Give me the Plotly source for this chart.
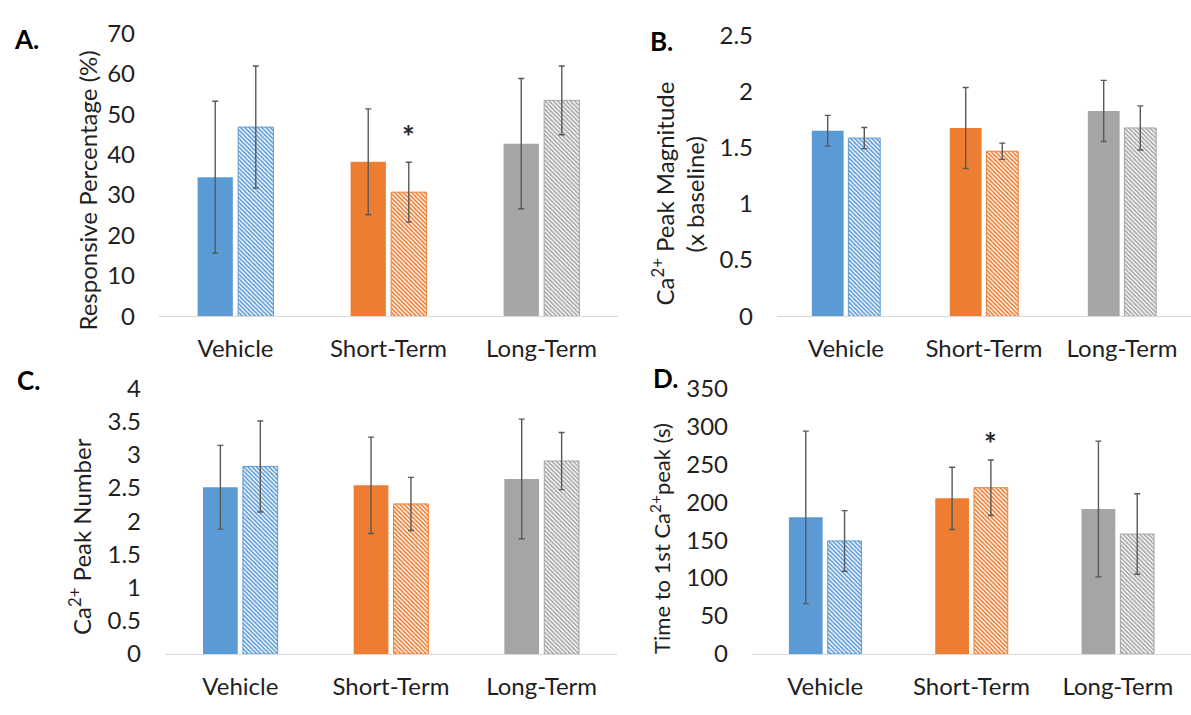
import plotly.graph_objects as go

# Groups and colours
categories = ["Vehicle", "Short-Term", "Long-Term"]
group_colors = ["#5B9BD5", "#ED7D31", "#A5A5A5"]

# A. Responsive percentage (%)
resp_solid = [34.4, 38.2, 42.7]
resp_solid_err = [18.8, 13.1, 16.1]
resp_hatch = [46.8, 30.7, 53.4]
resp_hatch_err = [15.1, 7.4, 8.5]

# B. Ca2+ peak magnitude (x baseline)
mag_solid = [1.65, 1.675, 1.826]
mag_solid_err = [0.137, 0.36, 0.272]
mag_hatch = [1.585, 1.468, 1.675]
mag_hatch_err = [0.094, 0.072, 0.196]

# C. Ca2+ peak number
num_solid = [2.51, 2.54, 2.635]
num_solid_err = [0.63, 0.725, 0.9]
num_hatch = [2.823, 2.259, 2.905]
num_hatch_err = [0.685, 0.40, 0.43]

# D. Time to 1st Ca2+ peak (s)
time_solid = [180, 205, 191]
time_solid_err = [113.6, 41, 89.4]
time_hatch = [149, 219, 158]
time_hatch_err = [39.9, 36.5, 53]

FONT = "Lato"
TEXT = "#1f1f1f"
FS = 24
W, H = 1191, 715

panels = [
    # (xaxis, yaxis, solid, solid_err, hatch, hatch_err)
    ("x", "y", resp_solid, resp_solid_err, resp_hatch, resp_hatch_err),
    ("x2", "y2", mag_solid, mag_solid_err, mag_hatch, mag_hatch_err),
    ("x3", "y3", num_solid, num_solid_err, num_hatch, num_hatch_err),
    ("x4", "y4", time_solid, time_solid_err, time_hatch, time_hatch_err),
]

xpos = list(range(len(categories)))
fig = go.Figure()

for xa, ya, solid, solid_err, hatch, hatch_err in panels:
    fig.add_trace(go.Bar(
        x=xpos, y=solid, xaxis=xa, yaxis=ya, offsetgroup="a",
        marker=dict(color=group_colors, line=dict(width=0)),
        error_y=dict(type="data", array=solid_err, color="#595959",
                     thickness=1.4, width=3),
        showlegend=False,
    ))
    fig.add_trace(go.Bar(
        x=xpos, y=hatch, xaxis=xa, yaxis=ya, offsetgroup="b",
        marker=dict(
            color="white",
            line=dict(color=group_colors, width=1),
            pattern=dict(shape="\\", fgcolor=group_colors, bgcolor="white",
                         size=3, solidity=0.55, fillmode="replace"),
        ),
        error_y=dict(type="data", array=hatch_err, color="#595959",
                     thickness=1.4, width=3),
        showlegend=False,
    ))


def px_x(p):
    return p / W


def px_y(p):
    return 1 - p / H


def xaxis_cfg(x0, x1):
    return dict(
        domain=[px_x(x0), min(1.0, px_x(x1))], range=[-0.5, 2.5],
        tickmode="array", tickvals=xpos, ticktext=categories,
        showline=True, linecolor="#D9D9D9", linewidth=1.3,
        ticks="outside", ticklen=11, tickcolor="rgba(0,0,0,0)",
        showgrid=False, zeroline=False, fixedrange=True,
        tickfont=dict(family=FONT, size=FS, color=TEXT),
    )


def yaxis_cfg(y0, y1, rng, dtick):
    return dict(
        domain=[px_y(y0), px_y(y1)], range=rng, dtick=dtick,
        showline=False, showgrid=False, zeroline=False, ticks="",
        ticklabelstandoff=23, fixedrange=True,
        tickfont=dict(family=FONT, size=FS, color=TEXT),
    )


fig.update_layout(
    width=W, height=H, margin=dict(l=0, r=0, t=0, b=0),
    paper_bgcolor="white", plot_bgcolor="white",
    barmode="group", bargap=0.47, bargroupgap=0.13,
    xaxis=dict(xaxis_cfg(159, 618), anchor="y"),
    yaxis=dict(yaxis_cfg(313, 18, [0, 70], 10), anchor="x"),
    xaxis2=dict(xaxis_cfg(777, 1191), anchor="y2"),
    yaxis2=dict(yaxis_cfg(313, 20, [0, 2.5], 0.5), anchor="x2"),
    xaxis3=dict(xaxis_cfg(165, 617), anchor="y3"),
    yaxis3=dict(yaxis_cfg(665, 388, [0, 4], 0.5), anchor="x3"),
    xaxis4=dict(xaxis_cfg(752, 1191), anchor="y4"),
    yaxis4=dict(yaxis_cfg(665, 388, [0, 350], 50), anchor="x4"),
)

annotations = []


def side_title(text, x, y, size=FS):
    annotations.append(dict(
        text=text, x=px_x(x), y=px_y(y), xref="paper", yref="paper",
        textangle=-90, showarrow=False, xanchor="center", yanchor="middle",
        font=dict(family=FONT, size=size, color=TEXT),
    ))


side_title("Responsive Percentage (%)", 88, 182)
side_title("Ca<sup>2+</sup> Peak Magnitude", 663, 185)
side_title("(x baseline)", 694, 186)
side_title("Ca<sup>2+</sup> Peak Number", 80, 543)
side_title("Time to 1st Ca<sup>2+</sup>peak (s)", 661, 545, size=22)

for label, x, y in [("A.", 26, 24), ("B.", 661, 26), ("C.", 28, 379), ("D.", 665, 377)]:
    annotations.append(dict(
        text=f"<b>{label}</b>", x=px_x(x), y=px_y(y), xref="paper", yref="paper",
        showarrow=False, xanchor="center", yanchor="middle",
        font=dict(family=FONT, size=26, color="black"),
    ))

# significance markers above the hatched Short-Term bars
for xr, yr, yv in [("x", "y", 44.5), ("x4", "y4", 278)]:
    annotations.append(dict(
        text="<b>*</b>", x=1.13, y=yv, xref=xr, yref=yr, showarrow=False,
        xanchor="center", yanchor="middle",
        font=dict(family=FONT, size=30, color="#262626"),
    ))

fig.update_layout(annotations=annotations)
fig.write_html("out.html")
